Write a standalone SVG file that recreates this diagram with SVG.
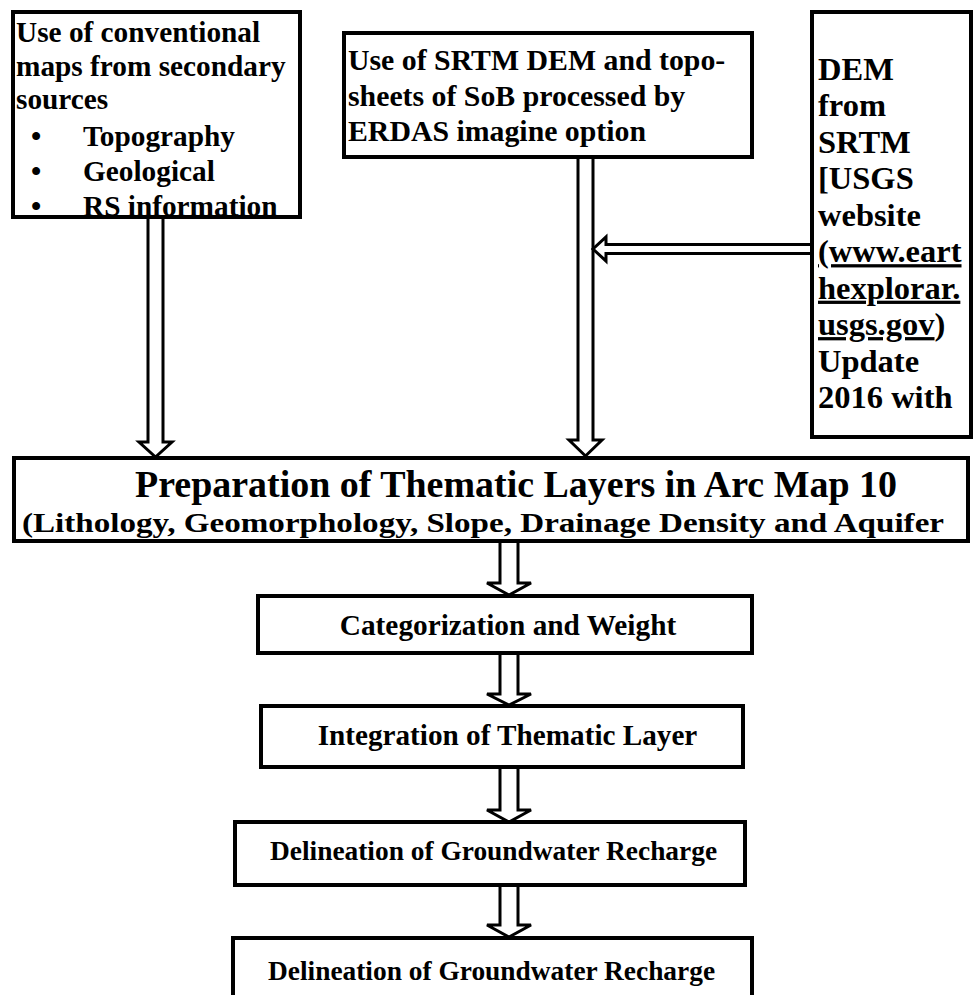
<svg xmlns="http://www.w3.org/2000/svg" width="973" height="995" viewBox="0 0 973 995">
<style>
.box{fill:#fff;stroke:#000;stroke-width:4}
.arr{fill:#fff;stroke:#000;stroke-width:3;stroke-linejoin:miter}
</style>
<defs>
<clipPath id="clip1"><rect x="13" y="12" width="287" height="205"/></clipPath>
</defs>
<rect width="973" height="995" fill="#fff"/>
<g id="connectors">
<path class="arr" d="M148,217 V442 H139 L155.5,457 L172,442 H163 V217"/>
<path class="arr" d="M578,157 V440 H569 L585.5,456 L602,440 H593 V157"/>
<path class="arr" d="M812,244.5 H606 V237 L593,249 L606,261 V253.5 H812"/>
<path class="arr" d="M500,542 V583 H487 L509,595 L531,583 H518 V542"/>
<path class="arr" d="M500,654 V694 H487 L509,705 L531,694 H518 V654"/>
<path class="arr" d="M500,767 V810 H487 L509,822 L531,810 H518 V767"/>
<path class="arr" d="M500,885 V925 H487 L509,937 L531,925 H518 V885"/>
</g>
<g font-family="'Liberation Serif', 'Times New Roman', Times, serif" font-weight="bold" fill="#000">
<g id="box1">
<rect class="box" x="13" y="12" width="287" height="205"/>
<g clip-path="url(#clip1)" font-size="29.3">
<text x="16" y="42">Use of conventional</text>
<text x="16" y="76">maps from secondary</text>
<text x="16" y="109">sources</text>
<text x="31" y="146">•</text><text x="83" y="146">Topography</text>
<text x="31" y="181">•</text><text x="83" y="181">Geological</text>
<text x="31" y="216">•</text><text x="83" y="216">RS information</text>
</g>
<rect x="13" y="12" width="287" height="205" fill="none" stroke="#000" stroke-width="4"/>
</g>
<g id="box2">
<rect class="box" x="344" y="33" width="408" height="124"/>
<g font-size="29.8">
<text x="348" y="70">Use of SRTM DEM and topo-</text>
<text x="348" y="106">sheets of SoB processed by</text>
<text x="348" y="141">ERDAS imagine option</text>
</g>
</g>
<g id="box3">
<rect class="box" x="812" y="12" width="159" height="425"/>
<g font-size="32.5">
<text x="818" y="80">DEM</text>
<text x="818" y="116.4">from</text>
<text x="818" y="152.9">SRTM</text>
<text x="818" y="189.3">[USGS</text>
<text x="818" y="225.8">website</text>
<text x="818" y="262.2" text-decoration="underline">(www.eart</text>
<text x="818" y="298.7" text-decoration="underline">hexplorar.</text>
<text x="818" y="335.1"><tspan text-decoration="underline">usgs.gov</tspan>)</text>
<text x="818" y="371.6">Update</text>
<text x="818" y="408">2016 with</text>
</g>
</g>
<g id="main">
<rect class="box" x="14" y="458" width="954" height="83"/>
<text x="516" y="497" font-size="37" text-anchor="middle" textLength="762" lengthAdjust="spacingAndGlyphs">Preparation of Thematic Layers in Arc Map 10</text>
<text x="483" y="532" font-size="28" text-anchor="middle" textLength="922" lengthAdjust="spacingAndGlyphs">(Lithology, Geomorphology, Slope, Drainage Density and Aquifer</text>
</g>
<g id="categorization">
<rect class="box" x="258" y="596" width="494" height="57"/>
<text x="508" y="635" font-size="29.3" text-anchor="middle">Categorization and Weight</text>
</g>
<g id="integration">
<rect class="box" x="261" y="706" width="482" height="61"/>
<text x="507.5" y="745" font-size="29.2" text-anchor="middle">Integration of Thematic Layer</text>
</g>
<g id="delineation1">
<rect class="box" x="235" y="822" width="510" height="63"/>
<text x="270" y="860" font-size="27.4">Delineation of Groundwater Recharge</text>
</g>
<g id="delineation2">
<rect class="box" x="233" y="938" width="519" height="80"/>
<text x="268" y="980" font-size="27.4">Delineation of Groundwater Recharge</text>
</g>
</g>
</svg>
